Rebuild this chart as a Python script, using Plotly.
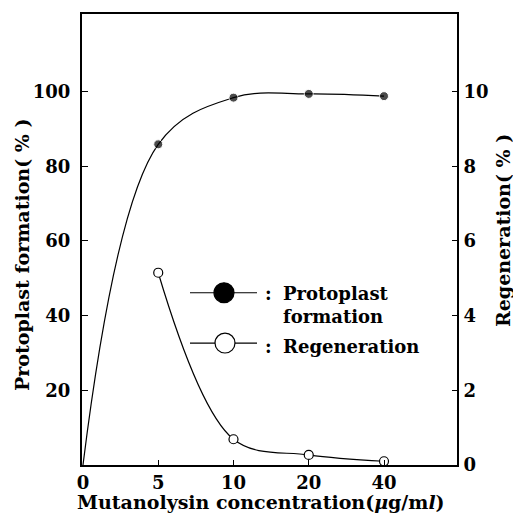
import plotly.graph_objects as go

# ---- data ----
concentration = ["0", "5", "10", "20", "40"]          # µg/ml (categorical, evenly spaced)
protoplast_formation = [0, 85.9, 98.4, 99.4, 98.8]     # %
regen_concentration = ["5", "10", "20", "40"]
regeneration = [5.15, 0.69, 0.27, 0.10]                # %

left_ticks = [20, 40, 60, 80, 100]
right_ticks = [0, 2, 4, 6, 8, 10]

FONT = "DejaVu Serif"
BLACK = "black"

# plot area in pixels (for placing decorations in paper coords)
L, R, T, B = 82, 457, 12, 465
W, H = R - L, B - T
def px(x): return (x - L) / W
def py(y): return (B - y) / H

def bold(s): return f"<b>{s}</b>"

# origin point is drawn as curve start only (no marker), as in the reference
proto_marker_sizes = [0 if v == 0 else 9 for v in protoplast_formation]

fig = go.Figure()

fig.add_trace(go.Scatter(
    x=concentration, y=protoplast_formation, mode="lines+markers",
    line=dict(color=BLACK, width=1.2, shape="spline", smoothing=1.05),
    marker=dict(symbol="circle", size=proto_marker_sizes, color=BLACK),
    showlegend=False, yaxis="y", cliponaxis=False,
))
fig.add_trace(go.Scatter(
    x=regen_concentration, y=regeneration, mode="lines+markers",
    line=dict(color=BLACK, width=1.2, shape="spline", smoothing=1.0),
    marker=dict(symbol="circle", size=9, color="white", line=dict(color=BLACK, width=1.2)),
    showlegend=False, yaxis="y2", cliponaxis=False,
))

tickfont = dict(family=FONT, size=18, color=BLACK)
titlefont = dict(family=FONT, size=19, color=BLACK)
legendfont = dict(family=FONT, size=18, color=BLACK)

fig.update_layout(
    width=513, height=513,
    margin=dict(l=L, r=513 - R, t=T, b=513 - B, pad=0),
    paper_bgcolor="white", plot_bgcolor="white",
    xaxis=dict(
        type="category", categoryorder="array", categoryarray=concentration,
        tickvals=concentration, ticktext=[bold(c) for c in concentration],
        range=[-0.013, 4.97], showgrid=False, zeroline=False,
        showline=True, linecolor=BLACK, linewidth=2, mirror=True,
        ticks="inside", ticklen=5, tickwidth=1, tickcolor=BLACK,
        tickfont=tickfont, ticklabelstandoff=0,
    ),
    yaxis=dict(
        range=[0, 120.8], tickvals=left_ticks, ticktext=[bold(t) for t in left_ticks],
        showgrid=False, zeroline=False,
        showline=True, linecolor=BLACK, linewidth=2,
        ticks="inside", ticklen=6, tickwidth=1, tickcolor=BLACK,
        tickfont=tickfont, ticklabelstandoff=6,
    ),
    yaxis2=dict(
        overlaying="y", side="right", range=[0, 12.08],
        tickvals=right_ticks, ticktext=[bold(t) for t in right_ticks],
        showgrid=False, zeroline=False,
        showline=True, linecolor=BLACK, linewidth=2,
        ticks="inside", ticklen=5, tickwidth=1, tickcolor=BLACK,
        tickfont=tickfont, ticklabelstandoff=1,
    ),
)

# axis titles
fig.add_annotation(text=bold("Mutanolysin concentration(<i>μ</i>g/m<i>l</i>)"),
                   xref="paper", yref="paper", x=px(261), y=py(502),
                   showarrow=False, font=titlefont, xanchor="center", yanchor="middle")
fig.add_annotation(text=bold("Protoplast formation( % )"), textangle=-90,
                   xref="paper", yref="paper", x=px(22), y=py(254),
                   showarrow=False, font=titlefont, xanchor="center", yanchor="middle")
fig.add_annotation(text=bold("Regeneration( % )"), textangle=-90,
                   xref="paper", yref="paper", x=px(503), y=py(230),
                   showarrow=False, font=titlefont, xanchor="center", yanchor="middle")

# legend (drawn manually)
for ly in (292, 342.5):
    fig.add_shape(type="line", xref="paper", yref="paper",
                  x0=px(190), x1=px(257), y0=py(ly), y1=py(ly),
                  line=dict(color=BLACK, width=1.2))
fig.add_shape(type="circle", xref="paper", yref="paper",
              x0=px(214), x1=px(234), y0=py(302), y1=py(282),
              fillcolor=BLACK, line=dict(color=BLACK, width=1.2))
fig.add_shape(type="circle", xref="paper", yref="paper",
              x0=px(215), x1=px(235), y0=py(352.5), y1=py(332.5),
              fillcolor="white", line=dict(color=BLACK, width=1.2))

for cy in (293, 346):
    fig.add_annotation(text=bold(":"), xref="paper", yref="paper", x=px(268), y=py(cy),
                       showarrow=False, font=legendfont, xanchor="center", yanchor="middle")
fig.add_annotation(text=bold("Protoplast<br>formation"), align="left",
                   xref="paper", yref="paper", x=px(281), y=py(304.5),
                   showarrow=False, font=legendfont, xanchor="left", yanchor="middle")
fig.add_annotation(text=bold("Regeneration"), align="left",
                   xref="paper", yref="paper", x=px(281), y=py(346),
                   showarrow=False, font=legendfont, xanchor="left", yanchor="middle")

fig.write_html("out.html")
